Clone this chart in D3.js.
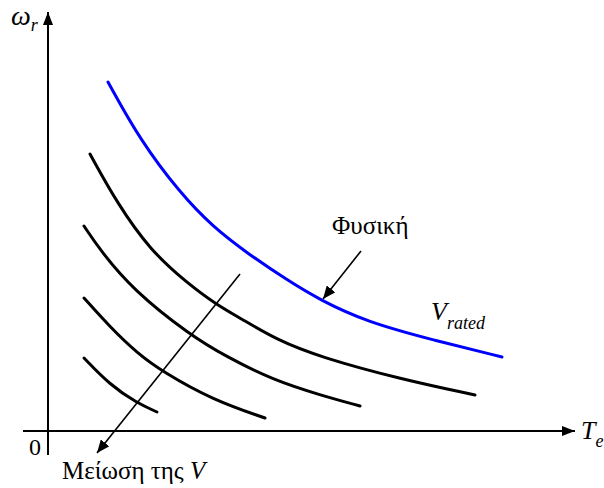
<!DOCTYPE html>
<html>
<head>
<meta charset="utf-8">
<script src="https://cdn.jsdelivr.net/npm/d3@7"></script>
<style>
  html, body { margin: 0; padding: 0; background: #fff; }
  svg { display: block; }
  svg text { font-family: "Liberation Serif", serif; }
</style>
</head>
<body>
<svg id="chart" width="604" height="488"></svg>
<script>
// Torque–speed curves: rated voltage (blue) and reduced voltages (black)
const ratedCurve = [
  [1.2, 8.725], [1.84, 7.275], [2.64, 5.95], [3.3, 5.1], [3.98, 4.45],
  [4.78, 3.775], [5.44, 3.275], [6.38, 2.725], [7.7, 2.275], [9.08, 1.85]
];
const reducedCurves = [
  [[0.84, 6.925], [1.38, 5.7], [2.04, 4.525], [2.78, 3.7], [3.38, 3.15],
   [3.84, 2.825], [4.58, 2.275], [5.44, 1.85], [7.04, 1.3], [8.54, 0.9]],
  [[0.72, 5.125], [1.04, 4.525], [1.7, 3.525], [2.84, 2.4], [3.58, 1.85],
   [4.5, 1.275], [5.44, 0.9], [6.24, 0.625]],
  [[0.72, 3.325], [1.24, 2.6], [1.78, 1.95], [2.3, 1.475], [3.3, 0.775], [4.34, 0.325]],
  [[0.72, 1.825], [1.24, 1.15], [1.78, 0.7], [2.18, 0.475]]
];
// annotation arrows: [from, to]
const naturalArrow = [[6.26, 4.5], [5.5, 3.3]];
const reduceArrow = [[3.84, 3.925], [0.98, -0.55]];
// axis extents
const tExtent = [-0.5, 10.54];
const wExtent = [-0.6, 10.475];

const svg = d3.select("#chart");
const x = d3.scaleLinear().domain([0, 10]).range([48, 548]);
const y = d3.scaleLinear().domain([0, 10]).range([431, 31]);

const defs = svg.append("defs");
function arrowMarker(id, len, wid) {
  defs.append("marker")
    .attr("id", id)
    .attr("markerUnits", "userSpaceOnUse")
    .attr("viewBox", `0 ${-wid / 2} ${len} ${wid}`)
    .attr("refX", len).attr("refY", 0)
    .attr("markerWidth", len).attr("markerHeight", wid)
    .attr("orient", "auto")
    .append("path")
    .attr("d", `M0,${-wid / 2}L${len},0L0,${wid / 2}Z`)
    .attr("fill", "#000");
}
arrowMarker("axisHead", 13, 10);
arrowMarker("noteHead", 13, 11);

// axes
svg.append("line")
  .attr("x1", x(tExtent[0])).attr("y1", y(0))
  .attr("x2", x(tExtent[1])).attr("y2", y(0))
  .attr("stroke", "#000").attr("stroke-width", 2)
  .attr("marker-end", "url(#axisHead)");
svg.append("line")
  .attr("x1", x(0)).attr("y1", y(wExtent[0]))
  .attr("x2", x(0)).attr("y2", y(wExtent[1]))
  .attr("stroke", "#000").attr("stroke-width", 2)
  .attr("marker-end", "url(#axisHead)");

const line = d3.line()
  .x(d => x(d[0])).y(d => y(d[1]))
  .curve(d3.curveBasis);

svg.selectAll("path.reduced")
  .data(reducedCurves)
  .join("path")
  .attr("class", "reduced")
  .attr("d", line)
  .attr("fill", "none")
  .attr("stroke", "#000")
  .attr("stroke-width", 3)
  .attr("stroke-linecap", "round");

svg.append("path")
  .datum(ratedCurve)
  .attr("d", line)
  .attr("fill", "none")
  .attr("stroke", "#0000ff")
  .attr("stroke-width", 3)
  .attr("stroke-linecap", "round");

// annotation arrows
[naturalArrow, reduceArrow].forEach(a => {
  svg.append("line")
    .attr("x1", x(a[0][0])).attr("y1", y(a[0][1]))
    .attr("x2", x(a[1][0])).attr("y2", y(a[1][1]))
    .attr("stroke", "#000").attr("stroke-width", 1.6)
    .attr("marker-end", "url(#noteHead)");
});

// labels
function label(px, py, size, italic) {
  return svg.append("text")
    .attr("x", px).attr("y", py)
    .style("font-family", "'Liberation Serif', serif")
    .attr("fill", "#000")
    .attr("font-size", size)
    .attr("font-style", italic ? "italic" : "normal");
}
const wl = label(11, 25, 28, true);
wl.append("tspan").text("ω");
wl.append("tspan").attr("font-size", 18).attr("dy", 6).text("r");

label(29, 455, 24, false).text("0");

const tl = label(581, 439, 26, true);
tl.append("tspan").text("T");
tl.append("tspan").attr("font-size", 18).attr("dy", 8).text("e");

label(332, 234, 25, false).text("Φυσική");

const vl = label(431, 320, 26, true);
vl.append("tspan").text("V");
vl.append("tspan").attr("font-size", 18).attr("dy", 9).text("rated");

const ml = label(62, 479, 25, false);
ml.append("tspan").text("Μείωση της ");
ml.append("tspan").attr("font-style", "italic").text("V");
</script>
</body>
</html>
